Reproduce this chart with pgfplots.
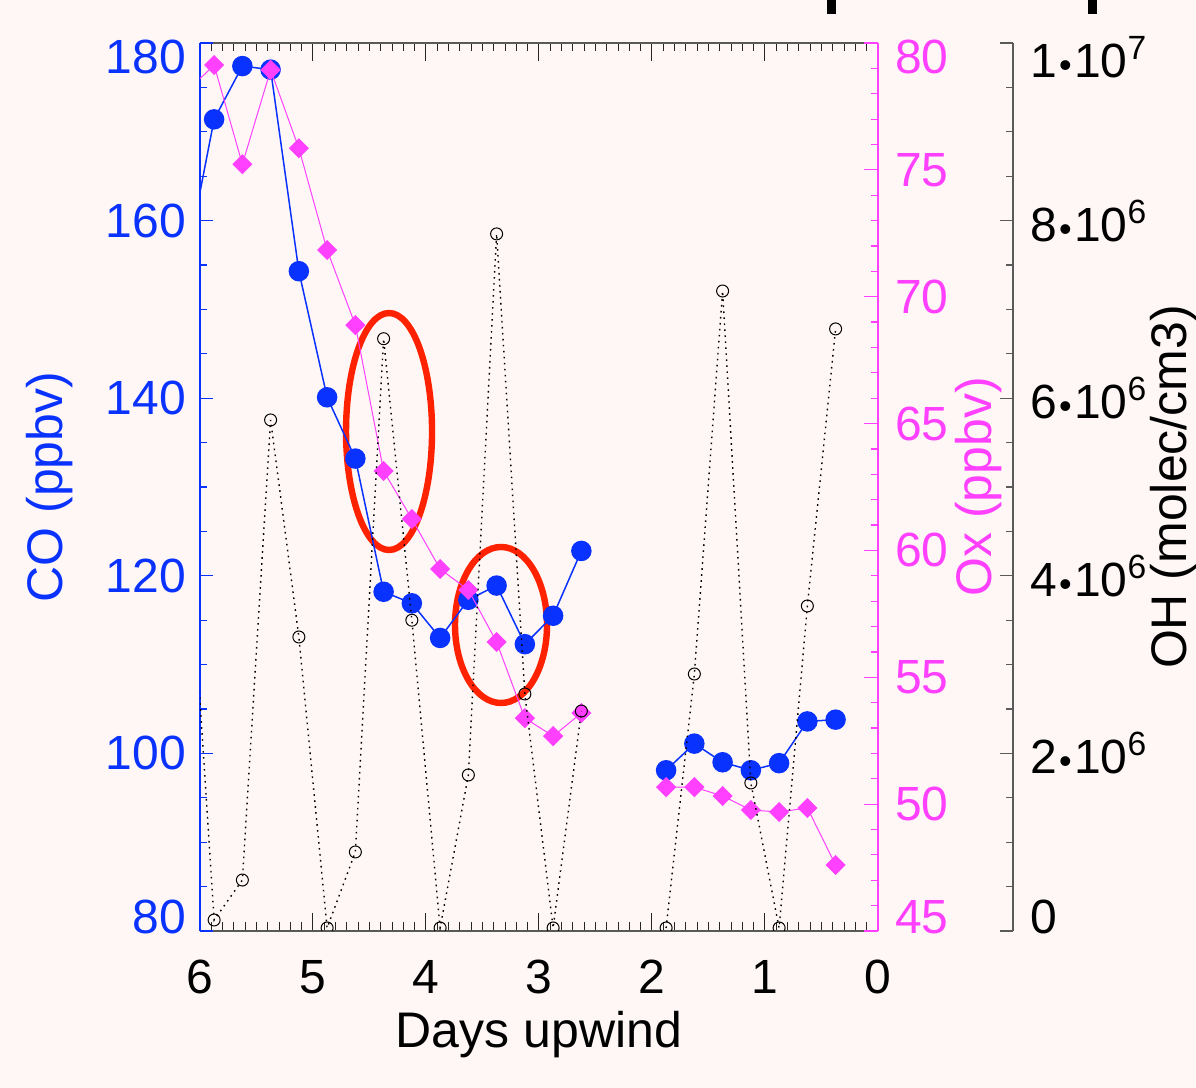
\documentclass[border=0pt]{standalone}
\usepackage{fontspec}
\setmainfont{Liberation Sans}
\usepackage{pgfplots}
\pgfplotsset{compat=1.18}
\definecolor{bg}{RGB}{254,247,245}
\definecolor{cob}{RGB}{10,50,255}
\definecolor{oxm}{RGB}{255,64,255}
\definecolor{ellr}{RGB}{255,34,0}
\definecolor{axg}{RGB}{90,90,90}
\newcommand{\up}[1]{\raisebox{7pt}[\height][\depth]{#1}}
\newcommand{\dn}[1]{\raisebox{-7pt}[\height][\depth]{#1}}
\newcommand{\bul}{\kern1.2pt{\fontsize{18}{18}\selectfont\textbullet}\kern1.2pt}
\pgfplotsset{
  base/.style={
    at={(100pt,78.5pt)}, anchor=south west,
    scale only axis, width=339pt, height=444pt,
    xmin=0, xmax=6, x dir=reverse,
    clip marker paths=true,
    tick align=inside,
    scaled y ticks=false,
    /pgf/number format/assume math mode=true,
    tick label style={font=\fontsize{24}{28}\selectfont},
    label style={font=\fontsize{25}{30}\selectfont},
  },
}
\begin{document}
\fontsize{25}{30}\selectfont
\begin{tikzpicture}[x=1pt,y=1pt]
\fill[bg] (0,0) rectangle (598,544);
\useasboundingbox (0,0) rectangle (598,544);
\fill[black] (413.5,537) rectangle (418,544);
\fill[black] (544,537) rectangle (548.5,544);

% x axis + annotations
\begin{axis}[base,
  ymin=80, ymax=180,
  axis x line*=box, axis y line=none, ytick=\empty,
  xtick={0,1,2,3,4,5,6}, minor x tick num=9,
  major tick length=9pt, minor tick length=4.25pt,
  tick style={black!85, line width=0.5pt},
  x axis line style={axg, line width=0.8pt},
  xticklabel style={yshift=-6pt, black},
  xlabel={Days upwind},
  every axis x label/.style={at={([yshift=-52pt]rel axis cs:0.5,0)}, anchor=center},
]
\draw[ellr, line width=3.2pt] (axis cs:4.327,136.25) ellipse [x radius=21.5pt, y radius=59.25pt];
\draw[ellr, line width=3.2pt] (axis cs:3.336,114.46) ellipse [x radius=23pt, y radius=39pt];
\end{axis}

% CO
\begin{axis}[base,
  ymin=80, ymax=180,
  axis y line*=left, axis x line=none,
  ytick={80,100,120,140,160,180}, minor y tick num=3,
  yticklabels={{\up{80}},100,120,140,160,{\dn{180}}},
  major tick length=6.5pt, minor tick length=3.5pt,
  tick style={cob, line width=0.6pt},
  y axis line style={cob, line width=1pt},
  yticklabel style={cob, xshift=1.5pt},
  ylabel={CO (ppbv)},
  every axis y label/.style={at={([xshift=-75pt]rel axis cs:0,0.5)}, rotate=90, anchor=center, cob},
]
\addplot[cob, line width=0.75pt, mark=*, mark size=4.75pt, mark options={fill=cob, draw=cob}, unbounded coords=jump]
coordinates {
(6.125,155.0) (5.875,171.4) (5.625,177.4) (5.375,177.0) (5.125,154.3)
(4.875,140.1) (4.625,133.2) (4.375,118.2) (4.125,116.9) (3.875,113.0)
(3.625,117.3) (3.375,118.9) (3.125,112.3) (2.875,115.5) (2.625,122.8)
(2.25,nan)
(1.875,98.1) (1.625,101.1) (1.375,99.0) (1.125,98.1) (0.875,98.9)
(0.625,103.6) (0.375,103.8)
};
\end{axis}

% Ox
\begin{axis}[base,
  ymin=45, ymax=80,
  axis y line*=right, axis x line=none,
  ytick={45,50,55,60,65,70,75,80}, minor y tick num=4,
  yticklabels={{\up{45}},50,55,60,65,70,75,{\dn{80}}},
  major tick length=7pt, minor tick length=3.5pt,
  tick style={oxm, line width=0.6pt},
  y axis line style={oxm, line width=0.7pt},
  yticklabel style={oxm},
  ylabel={Ox (ppbv)},
  every axis y label/.style={at={([xshift=50.5pt]rel axis cs:1,0.5)}, rotate=90, anchor=center, oxm},
]
\addplot[oxm, line width=0.5pt, mark=square*, mark size=3.3pt, mark options={rotate=45, fill=oxm, draw=oxm}, unbounded coords=jump]
coordinates {
(6.125,78.06) (5.875,79.13) (5.625,75.22) (5.375,78.94) (5.125,75.85)
(4.875,71.84) (4.625,68.88) (4.375,63.13) (4.125,61.24) (3.875,59.27)
(3.625,58.44) (3.375,56.39) (3.125,53.39) (2.875,52.68) (2.625,53.59)
(2.25,nan)
(1.875,50.67) (1.625,50.67) (1.375,50.32) (1.125,49.77) (0.875,49.69)
(0.625,49.85) (0.375,47.60)
};
\end{axis}

% OH data
\begin{axis}[base,
  ymin=0, ymax=10000000,
  hide axis,
]
\addplot[black, line width=0.7pt, dash pattern=on 0.8pt off 2.2pt, mark=o, mark size=3pt, mark options={solid, line width=0.5pt, draw=black}, unbounded coords=jump]
coordinates {
(6.125,5.06e6) (5.875,0.124e6) (5.625,0.574e6) (5.375,5.755e6) (5.125,3.311e6)
(4.875,0.034e6) (4.625,0.89e6) (4.375,6.67e6) (4.125,3.50e6) (3.875,0.034e6)
(3.625,1.757e6) (3.375,7.85e6) (3.125,2.669e6) (2.875,0.034e6) (2.625,2.477e6)
(2.25,nan)
(1.875,0.034e6) (1.625,2.894e6) (1.375,7.207e6) (1.125,1.667e6) (0.875,0.034e6)
(0.625,3.66e6) (0.375,6.78e6)
};
\end{axis}

% OH axis
\begin{axis}[
  at={(506.5pt,78.5pt)}, anchor=south east,
  scale only axis, width=6.5pt, height=444pt,
  xmin=0, xmax=1, ymin=0, ymax=10000000,
  axis y line*=right, axis x line=none,
  tick align=inside, scaled y ticks=false,
  tick label style={font=\fontsize{24}{28}\selectfont},
  label style={font=\fontsize{25}{30}\selectfont},
  ytick={0,2000000,4000000,6000000,8000000,10000000}, minor y tick num=3,
  yticklabels={{\up{0}},2\bul10\textsuperscript{6},4\bul10\textsuperscript{6},6\bul10\textsuperscript{6},8\bul10\textsuperscript{6},{\dn{1\bul10\textsuperscript{7}}}},
  major tick length=6.5pt, minor tick length=3.5pt,
  tick style={axg, line width=0.6pt},
  y axis line style={axg, line width=0.7pt},
  yticklabel style={black},
  ylabel={OH (molec/cm3)},
  every axis y label/.style={at={([xshift=80.5pt]rel axis cs:1,0.5)}, rotate=90, anchor=center, black},
]
\end{axis}
\end{tikzpicture}
\end{document}
